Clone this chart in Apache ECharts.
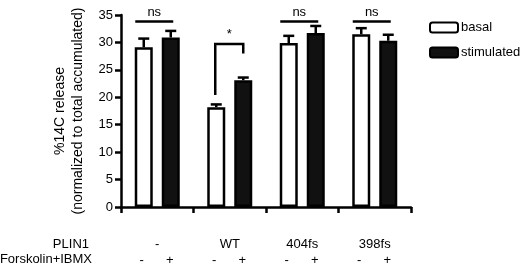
<!DOCTYPE html>
<html>
<head>
<meta charset="utf-8">
<script src="https://cdn.jsdelivr.net/npm/echarts@6/dist/echarts.min.js"></script>
<style>
  html, body { margin: 0; padding: 0; background: #fff; }
  #chart { width: 520px; height: 266px; }
</style>
</head>
<body>
<div id="chart"></div>
<script>
// groups along x (PLIN1 row)
const groups = ["-", "WT", "404fs", "398fs"];
// Forskolin+IBMX row, per bar
const treatment = ["-", "+"];
const seriesNames = ["basal", "stimulated"];

// % 14C release, mean and error (SEM)
const basal = [29.1, 18.2, 29.9, 31.5];
const basalErr = [1.6, 0.5, 1.3, 1.1];
const stimulated = [30.9, 23.1, 31.7, 30.3];
const stimulatedErr = [1.2, 0.5, 1.3, 1.1];

// significance marks: label, bracket top, bottom of left / right leg
const sigLabel = ["ns", "*", "ns", "ns"];
const sigTop = [33.8, 29.7, 33.8, 33.8];
const sigLeft = [33.8, 20.4, 33.8, 33.8];
const sigRight = [33.8, 28.0, 33.8, 33.8];

const yTicks = { min: 0, max: 35, interval: 5 };

const FONT = "'Liberation Sans', Arial, sans-serif";
const BAR_OFFSET = 13.5; // px from group centre to each bar centre

const chart = echarts.init(document.getElementById("chart"));

// upward error bar with cap
function errorBar(side) {
  return function (params, api) {
    const c = api.value(0);
    const top = api.coord([c, api.value(1) + api.value(2)]);
    const base = api.coord([c, api.value(1)]);
    const x = base[0] + side * BAR_OFFSET;
    const style = { stroke: "#000", lineWidth: 2.5 };
    return {
      type: "group",
      children: [
        { type: "line", shape: { x1: x, y1: base[1], x2: x, y2: top[1] }, style: style },
        { type: "line", shape: { x1: x - 5.5, y1: top[1], x2: x + 5.5, y2: top[1] }, style: style },
      ],
    };
  };
}

chart.setOption({
  animation: false,
  textStyle: { fontFamily: FONT },
  grid: { left: 121, right: 109, top: 15, bottom: 59 },
  legend: {
    data: seriesNames,
    orient: "vertical",
    left: 429,
    top: 21,
    padding: 0,
    itemWidth: 28,
    itemHeight: 10,
    itemGap: 12,
    itemStyle: { borderWidth: 2 },
    textStyle: { fontSize: 13, color: "#000", fontFamily: FONT, padding: [0, 0, 0, -2] },
  },
  xAxis: {
    type: "category",
    data: groups,
    axisLine: { lineStyle: { color: "#000", width: 2.5 } },
    axisTick: { show: true, length: 6, lineStyle: { color: "#000", width: 2.5 } },
    axisLabel: { margin: 31, fontSize: 13, color: "#000", fontFamily: FONT },
  },
  yAxis: {
    type: "value",
    min: yTicks.min,
    max: yTicks.max,
    interval: yTicks.interval,
    splitLine: { show: false },
    axisLine: { show: true, lineStyle: { color: "#000", width: 2.5 } },
    axisTick: { show: true, length: 6, lineStyle: { color: "#000", width: 2.5 } },
    axisLabel: { margin: 8, fontSize: 13, color: "#000", fontFamily: FONT },
    name: "%14C release\n(normalized to total accumulated)",
    nameLocation: "middle",
    nameRotate: 90,
    nameGap: 26,
    nameTextStyle: { fontSize: 14, color: "#000", fontFamily: FONT, lineHeight: 18 },
  },
  graphic: [
    { type: "text", right: 520 - 89, top: 238, style: { text: "PLIN1", font: "13px " + FONT, fill: "#000" } },
    { type: "text", right: 520 - 92, top: 253, style: { text: "Forskolin+IBMX", font: "13px " + FONT, fill: "#000" } },
  ],
  series: [
    {
      name: seriesNames[0],
      type: "bar",
      data: basal,
      barWidth: 18,
      barGap: "50%",
      itemStyle: { color: "#fff", borderColor: "#000", borderWidth: 2.5 },
      z: 3,
    },
    {
      name: seriesNames[1],
      type: "bar",
      data: stimulated,
      barWidth: 18,
      itemStyle: { color: "#111", borderColor: "#000", borderWidth: 2.5 },
      z: 3,
    },
    {
      type: "custom",
      renderItem: errorBar(-1),
      data: basal.map((v, i) => [i, v, basalErr[i]]),
      z: 2,
      silent: true,
    },
    {
      type: "custom",
      renderItem: errorBar(1),
      data: stimulated.map((v, i) => [i, v, stimulatedErr[i]]),
      z: 2,
      silent: true,
    },
    {
      // significance brackets
      type: "custom",
      clip: false,
      silent: true,
      data: groups.map((g, i) => [i, sigTop[i], sigLeft[i], sigRight[i]]),
      renderItem: function (params, api) {
        const i = params.dataIndex;
        const c = api.value(0);
        const top = api.coord([c, api.value(1)])[1];
        const yl = api.coord([c, api.value(2)])[1];
        const yr = api.coord([c, api.value(3)])[1];
        const cx = api.coord([c, 0])[0];
        const isBracket = yl !== top || yr !== top;
        const x1 = isBracket ? cx - BAR_OFFSET - 1 : cx - 22;
        const x2 = isBracket ? cx + BAR_OFFSET : cx + 16;
        const style = { stroke: "#000", lineWidth: 2.5, fill: null };
        const children = [
          {
            type: "polyline",
            shape: { points: [[x1, yl], [x1, top], [x2, top], [x2, yr]] },
            style: style,
          },
          {
            type: "text",
            x: (x1 + x2) / 2,
            y: top - 3,
            style: {
              text: sigLabel[i],
              font: "13px " + FONT,
              fill: "#000",
              align: "center",
              verticalAlign: "bottom",
            },
          },
        ];
        return { type: "group", children: children };
      },
    },
    {
      // Forskolin+IBMX row under each bar
      type: "custom",
      clip: false,
      silent: true,
      data: groups.map((g, i) => [i, 0]),
      renderItem: function (params, api) {
        const p = api.coord([api.value(0), 0]);
        return {
          type: "group",
          children: treatment.map((t, k) => ({
            type: "text",
            x: p[0] + (k === 0 ? -BAR_OFFSET - 2 : BAR_OFFSET - 1),
            y: 260,
            style: {
              text: t,
              font: "13px " + FONT,
              fill: "#000",
              align: "center",
              verticalAlign: "middle",
            },
          })),
        };
      },
    },
  ],
});
</script>
</body>
</html>
